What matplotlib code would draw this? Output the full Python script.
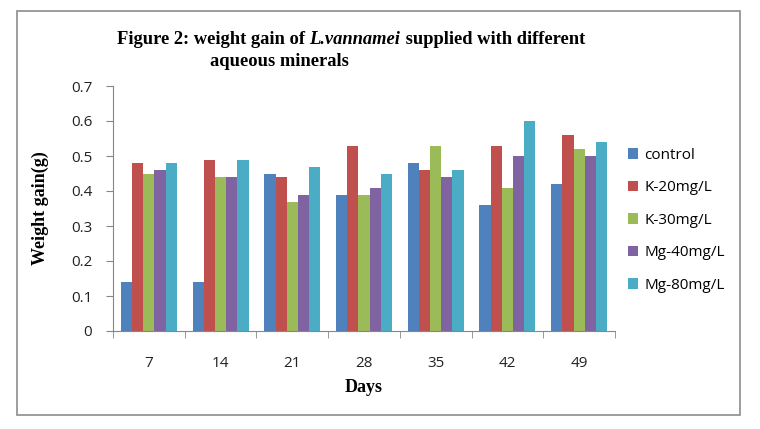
import matplotlib
matplotlib.use("Agg")
import matplotlib.pyplot as plt
from matplotlib.patches import Rectangle
import numpy as np

days = ["7", "14", "21", "28", "35", "42", "49"]
series = ["control", "K-20mg/L", "K-30mg/L", "Mg-40mg/L", "Mg-80mg/L"]
control = [0.14, 0.14, 0.45, 0.39, 0.48, 0.36, 0.42]
k20 = [0.48, 0.49, 0.44, 0.53, 0.46, 0.53, 0.56]
k30 = [0.45, 0.44, 0.37, 0.39, 0.53, 0.41, 0.52]
mg40 = [0.46, 0.44, 0.39, 0.41, 0.44, 0.50, 0.50]
mg80 = [0.48, 0.49, 0.47, 0.45, 0.46, 0.60, 0.54]
yticks = [0, 0.1, 0.2, 0.3, 0.4, 0.5, 0.6, 0.7]

COLORS = ["#4F81BD", "#C0504D", "#9BBB59", "#8064A2", "#4BACC6"]
SANS = ["Open Sans", "DejaVu Sans"]
SERIF = "Liberation Serif"
W, H = 760, 429

fig = plt.figure(figsize=(7.6, 4.29), dpi=100)
fig.patch.set_facecolor("white")

# outer chart frame
fig.add_artist(Rectangle((17 / W, 1 - 415 / H), (740 - 17) / W, (415 - 11) / H,
                         transform=fig.transFigure, fill=False,
                         edgecolor="#8c8c8c", linewidth=1.2))

ax = fig.add_axes([113 / W, 1 - 331 / H, (615 - 113) / W, (331 - 86) / H])

x = np.arange(len(days))
bw = 0.156
for i, (vals, c, name) in enumerate(zip([control, k20, k30, mg40, mg80], COLORS, series)):
    ax.bar(x + (i - 2) * bw, vals, width=bw, color=c, label=name, linewidth=0)

ax.set_xlim(-0.5, len(days) - 0.5)
ax.set_ylim(0, 0.7)
ax.set_yticks(yticks)
ax.set_yticklabels(["0" if v == 0 else f"{v:.1f}" for v in yticks],
                   fontsize=11, family=SANS, color="#222222")
ax.set_xticks(x)
ax.set_xticklabels(days, fontsize=11, family=SANS, color="#222222")
ax.set_xticks(np.arange(-0.5, len(days)), minor=True)
ax.tick_params(axis="x", which="major", length=0, pad=18)
ax.tick_params(axis="x", which="minor", length=5, color="#868686")
ax.tick_params(axis="y", length=5, color="#868686", pad=10)
for s in ["top", "right"]:
    ax.spines[s].set_visible(False)
for s in ["left", "bottom"]:
    ax.spines[s].set_color("#868686")

ax.set_xlabel("Days", fontsize=13, family=SERIF, fontweight="bold", labelpad=6)
ax.set_ylabel("Weight gain(g)", fontsize=13, family=SERIF, fontweight="bold", labelpad=16)

leg = fig.legend(loc="upper left", bbox_to_anchor=(614 / W, 1 - 134 / H),
                 frameon=False, prop={"family": SANS, "size": 11},
                 handlelength=0.7, handleheight=0.7, handletextpad=0.4,
                 labelspacing=1.15)

# title, drawn in pieces so the species name can be italic
fig.canvas.draw()
r = fig.canvas.get_renderer()
xpos = 117 / W
ypos = 1 - 40 / H
for txt, style in [("Figure 2: weight gain of ", "normal"), ("L.vannamei", "italic"),
                   (" supplied with different", "normal")]:
    t = fig.text(xpos, ypos, txt, fontsize=13.3, family=SERIF, fontweight="bold",
                 style=style, ha="left", va="center")
    bb = t.get_window_extent(renderer=r)
    xpos += bb.width / W
fig.text(210 / W, 1 - 62 / H, "aqueous minerals", fontsize=13.3, family=SERIF,
         fontweight="bold", ha="left", va="center")

fig.savefig("out.png", dpi=100)
